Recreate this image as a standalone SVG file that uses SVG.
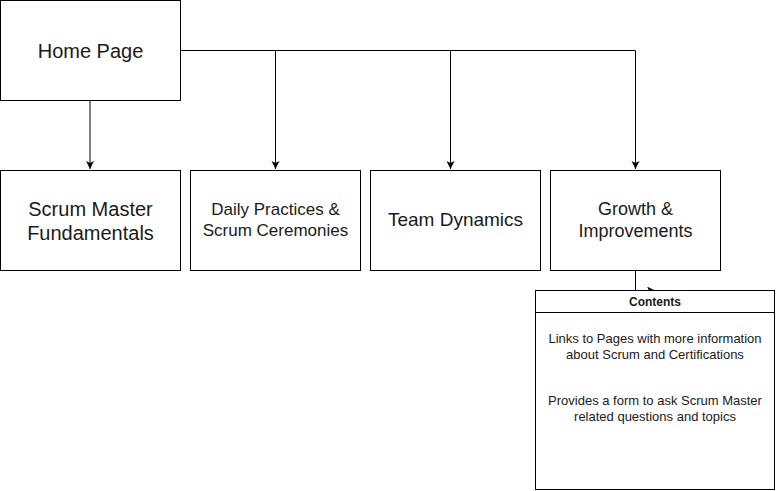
<svg xmlns="http://www.w3.org/2000/svg" width="776" height="491" viewBox="0 0 776 491">
<style>
.box{fill:#fff;stroke:#000;stroke-width:1}
.edge{fill:none;stroke:#000;stroke-width:1}
text{font-family:"Liberation Sans",Arial,sans-serif;fill:#1a1a1a;text-anchor:middle}
.t20{font-size:20px}.t19{font-size:19px}.t18{font-size:18px}.t17{font-size:17px}.t13{font-size:13px}.t12{font-size:12px}
.b{font-weight:bold}
</style>
<defs>
<marker id="arr" markerWidth="10" markerHeight="10" refX="8" refY="4" orient="auto" markerUnits="userSpaceOnUse">
<path d="M0,0 L8,4 L0,8 L2,4 Z" fill="#000"/>
</marker>
</defs>
<rect width="776" height="491" fill="#fff"/>
<g id="connectors">
<path class="edge" d="M90,100.5 V169" marker-end="url(#arr)"/>
<path class="edge" d="M180.5,50.5 H635.5"/>
<path class="edge" d="M275.5,50.5 V169" marker-end="url(#arr)"/>
<path class="edge" d="M450.5,50.5 V169" marker-end="url(#arr)"/>
<path class="edge" d="M635.5,50.5 V169" marker-end="url(#arr)"/>
<path class="edge" d="M635.5,270.5 V290.5 H655" marker-end="url(#arr)"/>
</g>
<g id="home">
<rect class="box" x="0.5" y="0.5" width="180" height="100"/>
<text class="t20" x="90.5" y="58">Home Page</text>
</g>
<g id="fundamentals">
<rect class="box" x="0.5" y="170.5" width="180" height="100"/>
<text class="t20" x="90.5" y="216">Scrum Master</text>
<text class="t20" x="90.5" y="240">Fundamentals</text>
</g>
<g id="daily">
<rect class="box" x="190.5" y="170.5" width="170" height="100"/>
<text class="t17" x="275.5" y="215">Daily Practices &amp;</text>
<text class="t17" x="275.5" y="236">Scrum Ceremonies</text>
</g>
<g id="team">
<rect class="box" x="370.5" y="170.5" width="170" height="100"/>
<text class="t19" x="455.5" y="226">Team Dynamics</text>
</g>
<g id="growth">
<rect class="box" x="550.5" y="170.5" width="170" height="100"/>
<text class="t18" x="635.5" y="215">Growth &amp;</text>
<text class="t18" x="635.5" y="237">Improvements</text>
</g>
<g id="contents">
<rect class="box" x="535.5" y="290.5" width="239" height="199"/>
<line class="edge" x1="535.5" y1="312.5" x2="774.5" y2="312.5"/>
<text class="t12 b" x="655" y="306">Contents</text>
<text class="t13" x="655" y="343">Links to Pages with more information</text>
<text class="t13" x="655" y="359">about Scrum and Certifications</text>
<text class="t13" x="655" y="405">Provides a form to ask Scrum Master</text>
<text class="t13" x="655" y="421">related questions and topics</text>
</g>
</svg>
